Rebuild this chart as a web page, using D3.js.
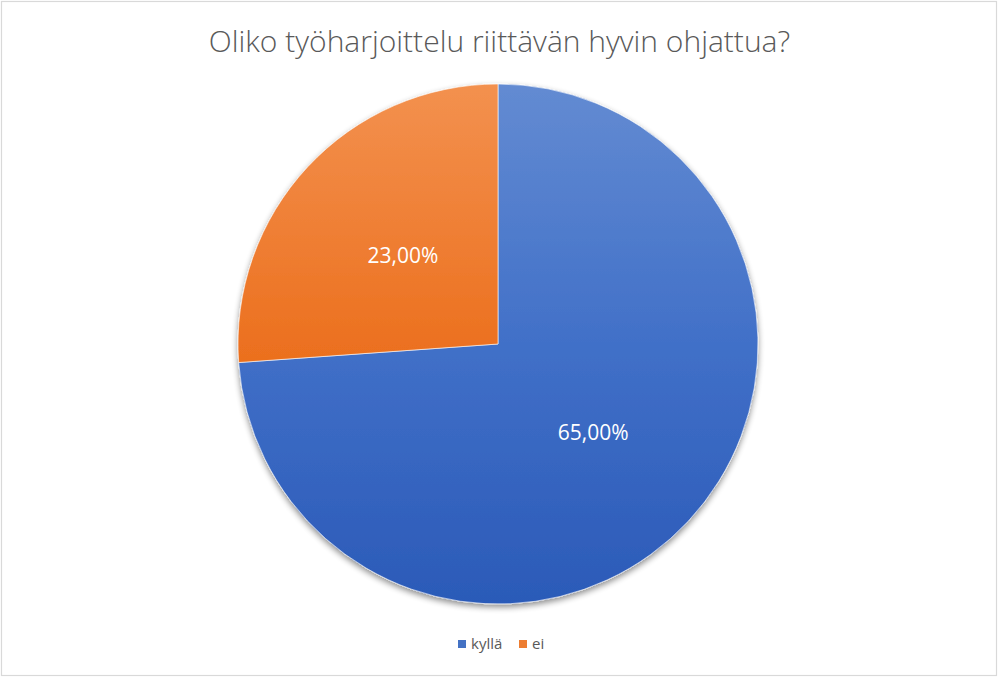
<!DOCTYPE html>
<html lang="fi">
<head>
<meta charset="UTF-8">
<title>Oliko työharjoittelu riittävän hyvin ohjattua?</title>
<style>
  body { margin: 0; background: #fff; }
  text { font-family: "Open Sans", "Noto Sans", sans-serif; }
</style>
</head>
<body>
<script src="https://d3js.org/d3.v7.min.js"></script>
<script>
    const W = 999, H = 679;

    // data
    const titleText = "Oliko työharjoittelu riittävän hyvin ohjattua?";
    const categories = ["kyllä", "ei"];
    const values = [65, 23];
    const labels = ["65,00%", "23,00%"];
    const colorsTop = ["#638bd2", "#f3914f"];
    const colorsMid = ["#4170c8", "#ec7120"];
    const colorsBottom = ["#2b5ab8", "#e0600c"];

    const cx = 498, cy = 344, R = 260;

    let svg = d3.select("body").append("svg")
        .attr("width", W)
        .attr("height", H);

    let defs = svg.append("defs");

    // soft shadow under the pie
    let f = defs.append("filter").attr("id", "shadow")
        .attr("x", "-10%").attr("y", "-10%").attr("width", "120%").attr("height", "125%");
    f.append("feGaussianBlur").attr("in", "SourceAlpha").attr("stdDeviation", 3).attr("result", "b");
    f.append("feOffset").attr("in", "b").attr("dy", 3).attr("result", "o");
    f.append("feComponentTransfer").attr("in", "o").attr("result", "s")
        .append("feFuncA").attr("type", "linear").attr("slope", 0.45);
    let m = f.append("feMerge");
    m.append("feMergeNode").attr("in", "s");
    m.append("feMergeNode").attr("in", "SourceGraphic");

    categories.forEach(function (c, i) {
        let g = defs.append("linearGradient").attr("id", "grad" + i)
            .attr("gradientUnits", "userSpaceOnUse")
            .attr("x1", 0).attr("y1", -R).attr("x2", 0).attr("y2", R);
        g.append("stop").attr("offset", "0%").attr("stop-color", colorsTop[i]);
        g.append("stop").attr("offset", "50%").attr("stop-color", colorsMid[i]);
        g.append("stop").attr("offset", "100%").attr("stop-color", colorsBottom[i]);
    });

    // outer frame
    svg.append("rect")
        .attr("x", 1.5).attr("y", 1.5)
        .attr("width", W - 4).attr("height", H - 5)
        .attr("fill", "#fff")
        .attr("stroke", "#d9d9d9")
        .attr("stroke-width", 1.2);

    svg.append("text")
        .attr("x", W / 2)
        .attr("y", 52)
        .attr("text-anchor", "middle")
        .style("font-size", "30px")
        .style("font-weight", 300)
        .attr("fill", "#595959")
        .text(titleText);

    let pie = d3.pie().sort(null).value(d => d);
    let arc = d3.arc().innerRadius(0).outerRadius(R);
    let arcs = pie(values);

    let g = svg.append("g").attr("transform", "translate(" + cx + "," + cy + ")");

    g.append("g").attr("filter", "url(#shadow)")
        .selectAll("path")
        .data(arcs)
        .enter()
        .append("path")
        .attr("d", arc)
        .attr("fill", (d, i) => "url(#grad" + i + ")")
        .attr("stroke", "#fff")
        .attr("stroke-width", 0.6);

    g.selectAll("text.lbl")
        .data(arcs)
        .enter()
        .append("text")
        .attr("class", "lbl")
        .attr("transform", d => "translate(" + arc.centroid(d) + ")")
        .attr("text-anchor", "middle")
        .attr("dy", "0.35em")
        .attr("fill", "#fff")
        .style("font-size", "21px")
        .text((d, i) => labels[i]);

    // legend
    let legend = svg.append("g").attr("transform", "translate(458,644)");
    let lx = [0, 61];
    categories.forEach(function (c, i) {
        let it = legend.append("g").attr("transform", "translate(" + lx[i] + ",0)");
        it.append("rect").attr("x", 0).attr("y", -4).attr("width", 8).attr("height", 8)
            .attr("fill", i === 0 ? "#4472c4" : "#ed7d31");
        it.append("text").attr("x", 13).attr("y", 0).attr("dy", "0.35em")
            .attr("fill", "#595959")
            .style("font-size", "15px")
            .text(c);
    });
</script>
</body>
</html>
